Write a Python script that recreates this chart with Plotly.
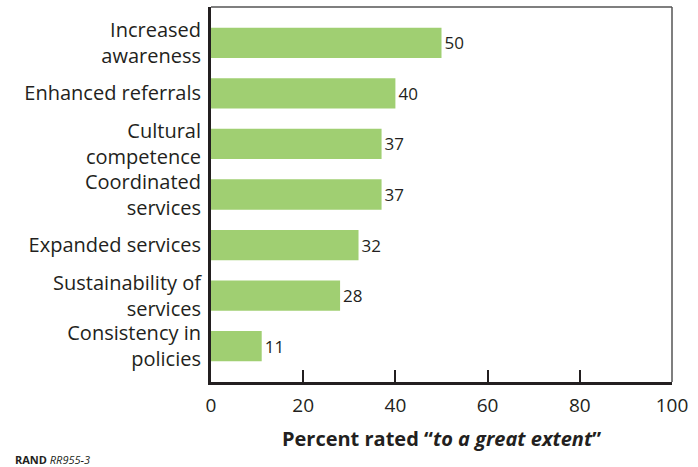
import plotly.graph_objects as go

categories = ["Increased<br>awareness", "Enhanced referrals", "Cultural<br>competence",
              "Coordinated<br>services", "Expanded services", "Sustainability of<br>services",
              "Consistency in<br>policies"]
values = [50, 40, 37, 37, 32, 28, 11]
tick_vals = [0, 20, 40, 60, 80, 100]

FONT = "Open Sans, Noto Sans, sans-serif"
TXT = "#231f20"

fig = go.Figure(go.Bar(
    x=values, y=categories, orientation="h",
    marker=dict(color="#a0cf72", line=dict(width=0)),
    width=0.6,
    text=[str(v) for v in values], textposition="outside",
    textfont=dict(family=FONT, size=17, color=TXT),
    constraintext="none",
    cliponaxis=False,
))

fig.update_layout(
    width=698, height=467,
    margin=dict(l=211, r=26, t=7, b=85),
    paper_bgcolor="white", plot_bgcolor="white",
    showlegend=False,
    font=dict(family=FONT, color=TXT),
    xaxis=dict(range=[0, 100], tickvals=tick_vals, ticks="inside", ticklen=12,
               tickwidth=1.5, tickcolor="#231f20",
               ticklabelstandoff=4,
               showgrid=False, zeroline=False, showline=True, linecolor="#231f20", linewidth=3,
               tickfont=dict(size=19, color=TXT),
               title=dict(text="<b>Percent rated “<i>to a great extent</i>”</b>",
                          font=dict(size=20, color=TXT), standoff=16)),
    yaxis=dict(categoryorder="array", categoryarray=categories[::-1],
               range=[-0.71, 6.71], showgrid=False, zeroline=False,
               showline=True, linecolor="#231f20", linewidth=3, ticks="",
               ticklabelstandoff=3,
               tickfont=dict(size=20, color=TXT)),
    shapes=[
        dict(type="line", xref="paper", yref="paper", x0=0, x1=1, y0=1, y1=1,
             line=dict(color="#555555", width=1.5)),
        dict(type="line", xref="paper", yref="paper", x0=1, x1=1, y0=0, y1=1,
             line=dict(color="#555555", width=1.5)),
    ],
    annotations=[dict(text="<b>RAND</b> <i>RR955-3</i>", xref="paper", yref="paper",
                      x=(13 - 211) / (698 - 211 - 26), y=0, yshift=-77,
                      xanchor="left", yanchor="middle", showarrow=False,
                      font=dict(size=11, color=TXT))],
)

fig.write_html("out.html")
